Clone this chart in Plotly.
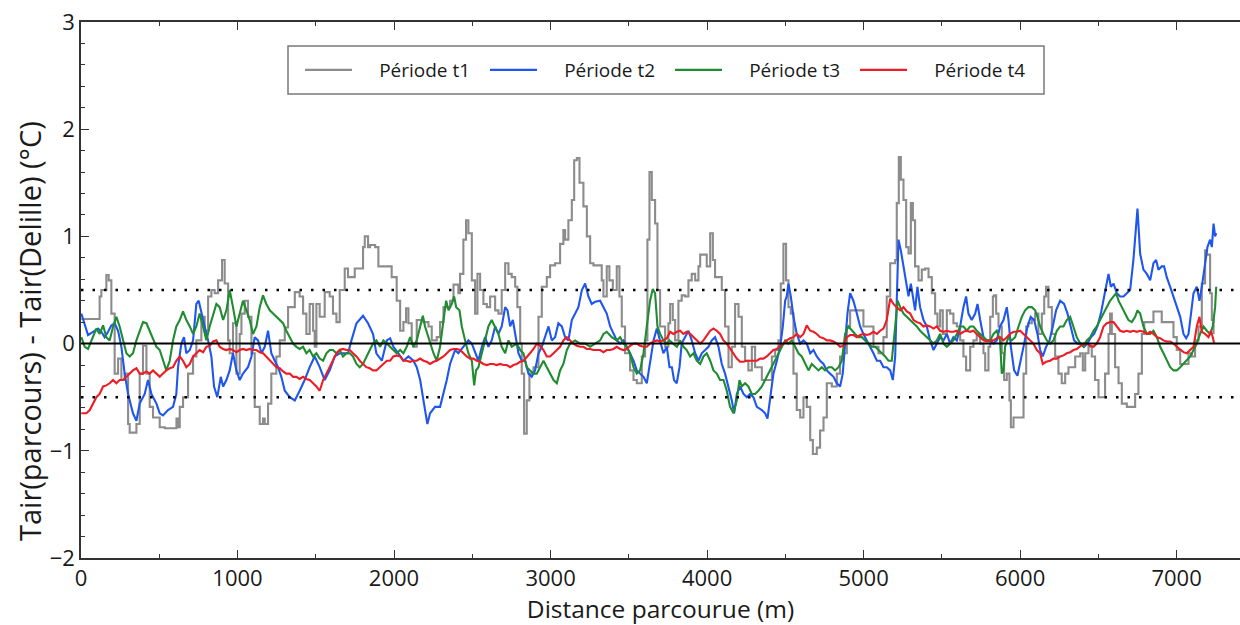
import plotly.graph_objects as go

# ---------------- data ----------------
series_names = ["Période t1", "Période t2", "Période t3", "Période t4"]
series_colors = ["#8c8c8c", "#1f56f0", "#1f8c30", "#ee1c24"]

t1_x = [2,98,119,130,162,177,194,215,237,258,279,301,311,343,354,375,396,418,439,460,503,535,599,610,620,631,652,684,716,737,769,790,812,833,854,876,901,918,940,950,971,993,1014,1025,1046,1067,1089,1110,1142,1163,1174,1195,1216,1248,1270,1302,1323,1366,1397,1419,1440,1461,1483,1493,1504,1525,1557,1589,1610,1632,1653,1685,1706,1749,1802,1813,1834,
        1847,1879,1900,1964,1985,2017,2039,2060,2077,2092,2113,2124,2145,2188,2220,2241,2273,2294,2316,2358,2380,2411,2422,2443,2460,2475,2497,2518,2533,2550,2571,2593,2614,2646,2667,2688,2710,2731,2752,2774,2788,2806,2816,2831,2848,2865,2891,2923,2944,2976,2997,3029,3061,3082,3093,3114,3136,3151,3168,3185,3210,3232,3253,3274,3306,3327,3338,3359,3376,3398,3423,3440,3455,3476,3508,3530,3551,3583,3604,3619,3632,3647,3668,3683,3700,3732,3753,
        3764,3781,3796,3817,3838,3860,3881,3902,3924,3945,3956,3977,3998,4020,4037,4051,4073,4094,4115,4137,4158,4179,4201,4222,4243,4264,4286,4307,4328,4350,4382,4414,4435,4456,4471,4488,4505,4520,4535,4552,4573,4595,4616,4637,4659,4676,4701,4722,4744,4765,4797,4829,4850,4872,4893,4914,4946,4978,4999,5031,5063,5095,5127,5148,5170,5202,5212,5225,5238,5255,5272,5287,5302,5315,5329,5351,5372,5393,5415,5436,5457,5472,5489,5506,5532,5553,5574,5596,
        5617,5638,5655,5681,5702,5723,5745,5766,5777,5798,5809,5826,5834,5847,5862,5883,5898,5915,5932,5941,5958,6011,6022,6039,6053,6075,6096,6117,6139,6154,6166,6181,6203,6224,6245,6266,6288,6309,6330,6352,6384,6401,6416,6437,6458,6479,6501,6522,6543,6565,6575,6586,6607,6629,6650,6682,6714,6735,6756,6778,6793,6820,6852,6884,6905,6937,6980,7001,7023,7055,7076,7097,7118,7140,7161,7182,7193,7214,7225,7236]
t1_y = [0.23,0.23,0.44,0.50,0.64,0.59,0.28,-0.28,-0.14,-0.34,-0.28,-0.75,-0.83,-0.83,-0.75,-0.28,-0.02,-0.28,-0.59,-0.69,-0.78,-0.79,-0.79,-0.70,-0.78,-0.59,-0.50,-0.28,-0.12,0.03,0.25,0.12,0.44,0.50,0.47,0.59,0.78,0.56,0.03,-0.09,0.19,-0.28,0.09,0.28,0.40,0.25,-0.09,-0.59,-0.75,-0.70,-0.75,-0.56,-0.28,-0.12,0.03,0.15,0.34,0.48,0.44,0.28,0.09,0.37,0.12,-0.03,0.37,0.25,0.48,0.44,0.28,0.20,0.50,0.70,0.62,0.70,0.90,1.00,0.90,
        0.92,0.90,0.72,0.72,0.62,0.40,0.12,0.20,0.33,0.19,0.0,-0.03,0.22,0.20,0.16,0.03,0.06,0.20,0.34,0.40,0.55,0.47,0.65,0.97,1.15,1.03,0.59,0.28,0.65,0.50,0.37,0.34,0.44,0.31,0.28,0.50,0.75,0.65,0.62,0.53,0.34,0.0,-0.28,-0.84,-0.53,-0.28,-0.22,0.25,0.53,0.62,0.73,0.75,0.93,1.06,0.97,1.15,1.34,1.71,1.73,1.50,1.28,1.00,0.75,0.73,0.73,0.59,0.44,0.72,0.59,0.50,0.72,0.44,0.16,-0.09,-0.25,-0.34,-0.37,-0.12,0.03,0.97,1.60,1.34,1.12,0.50,0.16,-0.03,0.19,
        0.37,0.22,0.03,0.40,0.45,0.44,0.59,0.65,0.59,0.72,0.83,0.83,0.72,1.03,0.78,0.62,0.62,0.50,0.16,-0.22,-0.03,0.37,0.25,-0.03,-0.16,-0.25,-0.03,-0.22,-0.22,-0.34,-0.34,-0.12,-0.06,0.03,0.56,0.93,0.59,0.34,0.28,-0.28,-0.62,-0.69,-0.50,-0.59,-0.90,-1.03,-0.97,-0.81,-0.69,-0.37,-0.40,-0.28,-0.12,-0.09,0.16,0.31,0.31,0.31,0.16,0.16,-0.03,-0.09,0.06,0.44,0.75,0.78,1.31,1.74,1.53,1.34,0.90,0.84,1.31,1.15,0.72,0.59,0.69,0.70,0.62,0.47,0.28,0.16,0.31,0.09,0.31,0.28,0.19,0.16,
        0.03,-0.12,-0.25,-0.03,0.03,0.09,0.0,-0.09,-0.25,-0.03,0.25,0.44,0.45,0.28,0.16,-0.09,-0.34,-0.28,-0.53,-0.78,-0.69,-0.69,-0.28,0.16,0.19,0.22,0.28,0.09,0.28,0.44,0.53,0.34,0.09,-0.12,-0.28,-0.37,-0.28,-0.22,-0.22,-0.12,-0.09,-0.25,-0.09,-0.03,-0.12,-0.34,-0.50,-0.50,-0.28,0.09,0.28,0.09,-0.22,-0.37,-0.56,-0.59,-0.59,-0.47,-0.28,0.09,0.20,0.20,0.30,0.30,0.20,0.20,0.06,-0.06,-0.19,-0.19,-0.09,-0.12,0.03,0.16,0.56,0.87,0.83,0.47,0.22,0.09]

t2_x = [2,24,45,77,109,130,151,173,194,215,237,258,279,301,332,354,375,407,428,450,482,503,524,556,588,609,620,641,658,673,695,716,737,752,769,790,812,833,850,871,893,908,929,950,971,993,1014,1035,1067,1089,1110,1131,1153,1174,1195,1216,1238,1259,1280,1302,1334,1366,1397,1429,1461,1493,1525,1557,1589,1621,1653,1685,1706,1728,1760,1802,1834,1866,1887,
        1922,1954,1975,1996,2028,2060,2092,2124,2145,2167,2188,2213,2230,2262,2294,2316,2337,2358,2390,2411,2443,2475,2497,2518,2539,2561,2582,2603,2624,2646,2667,2688,2710,2725,2742,2759,2774,2795,2816,2837,2859,2880,2901,2923,2944,2965,2987,3008,3029,3050,3072,3093,3114,3136,3157,3178,3200,3221,3242,3263,3285,3317,3338,3359,3381,3402,3423,3445,3466,3487,3508,3530,3551,3572,3594,3615,3636,3658,3679,3700,3721,3743,3760,
        3775,3789,3806,3824,3838,3860,3881,3902,3924,3945,3966,3988,4009,4030,4051,4073,4094,4115,4137,4158,4173,4190,4211,4233,4254,4275,4296,4318,4350,4371,4386,4403,4424,4446,4467,4484,4499,4509,4520,4535,4552,4573,4595,4616,4637,4659,4680,4701,4722,4744,4765,4786,4808,4829,4850,4867,4882,4897,4914,4935,4957,4978,4999,5021,5042,5063,5085,5106,5127,5148,5170,5187,5202,5212,5223,5238,5255,5276,5287,5302,5315,5329,5344,5361,5383,5404,5425,5447,5468,5489,5511,5532,5553,5574,5596,
        5617,5638,5655,5670,5691,5713,5728,5745,5766,5787,5809,5830,5851,5872,5894,5915,5926,5941,5962,5983,6004,6026,6047,6068,6090,6111,6128,6145,6166,6188,6209,6230,6256,6281,6303,6324,6345,6367,6388,6409,6430,6452,6473,6494,6516,6537,6554,6565,6580,6597,6618,6639,6661,6682,6703,6724,6741,6750,6767,6788,6810,6831,6852,6869,6884,6905,6920,6937,6959,6980,7001,7023,7044,7061,7076,7091,7108,7129,7146,7161,7182,7197,7214,7225,7236,7246,7253]
t2_y = [0.28,0.17,0.08,0.11,0.14,0.11,0.06,0.11,0.17,0.19,0.12,-0.03,-0.28,-0.47,-0.65,-0.72,-0.56,-0.47,-0.34,-0.47,-0.56,-0.65,-0.67,-0.62,-0.59,-0.47,-0.22,0.0,0.06,-0.09,-0.06,0.03,0.37,0.40,0.28,0.16,0.03,-0.12,-0.40,-0.50,-0.31,-0.40,-0.34,-0.25,-0.09,-0.25,-0.34,-0.28,-0.22,-0.12,0.06,0.03,-0.09,-0.03,0.12,-0.09,-0.16,-0.22,-0.31,-0.44,-0.50,-0.53,-0.44,-0.34,-0.22,-0.12,-0.22,-0.34,-0.25,-0.12,-0.09,-0.09,-0.09,0.03,0.19,0.26,0.19,0.09,-0.09,
        -0.16,0.03,0.05,-0.03,-0.09,-0.16,-0.12,-0.16,-0.22,-0.34,-0.53,-0.75,-0.65,-0.59,-0.59,-0.47,-0.34,-0.19,-0.06,-0.09,-0.03,0.03,0.0,-0.09,-0.16,-0.03,0.06,-0.03,0.03,0.16,0.09,0.16,0.34,0.31,0.16,0.22,0.09,-0.09,-0.16,-0.16,-0.28,-0.31,-0.25,-0.09,-0.03,0.06,0.16,0.03,0.06,0.19,0.16,0.06,0.03,0.22,0.28,0.34,0.50,0.56,0.44,0.37,0.39,0.40,0.34,0.28,0.16,0.09,0.03,0.0,0.03,-0.03,-0.09,-0.16,-0.25,-0.28,-0.31,-0.37,-0.16,0.03,0.14,0.03,-0.09,-0.03,-0.22,
        -0.22,-0.34,-0.37,-0.22,0.0,0.06,0.12,0.03,-0.09,-0.16,-0.09,-0.06,-0.03,0.03,0.06,-0.03,-0.19,-0.28,-0.40,-0.53,-0.65,-0.47,-0.40,-0.47,-0.50,-0.47,-0.50,-0.59,-0.62,-0.65,-0.70,-0.50,-0.28,-0.16,-0.03,0.16,0.40,0.44,0.56,0.44,0.25,0.09,0.0,0.03,0.0,-0.09,-0.06,-0.12,-0.16,-0.19,-0.25,-0.28,-0.31,-0.37,-0.40,-0.28,0.03,0.28,0.47,0.40,0.28,0.16,0.09,0.03,-0.03,-0.09,-0.16,-0.16,-0.22,-0.22,-0.25,-0.34,-0.12,0.50,0.97,0.87,0.72,0.53,0.44,0.56,0.44,0.31,0.53,0.34,0.22,0.16,0.03,-0.06,0.0,0.06,0.03,0.09,0.0,0.06,0.03,
        0.16,0.34,0.44,0.28,0.22,0.28,0.37,0.22,0.06,0.03,0.03,0.0,0.03,0.16,0.22,0.34,0.22,-0.03,-0.25,-0.30,-0.16,0.0,0.16,0.25,0.22,0.09,-0.06,-0.12,-0.03,0.03,0.16,0.31,0.40,0.37,0.28,0.16,0.03,0.0,0.0,-0.03,0.0,0.06,0.09,0.16,0.28,0.44,0.59,0.65,0.53,0.56,0.47,0.44,0.44,0.47,0.50,0.78,1.15,1.26,0.84,0.69,0.65,0.59,0.75,0.78,0.69,0.72,0.72,0.62,0.53,0.44,0.34,0.25,0.09,0.05,0.09,0.25,0.47,0.53,0.40,0.53,0.75,0.90,0.97,0.90,1.12,1.00,1.03]

t3_x = [2,24,45,77,98,119,141,162,183,205,226,247,269,290,311,332,354,375,396,418,439,460,482,503,524,545,567,588,609,631,652,673,695,716,737,758,780,801,822,844,865,886,908,929,950,971,993,1014,1035,1057,1078,1099,1121,1142,1163,1184,1206,1227,1248,1270,1291,1312,1334,1355,1376,1397,1419,1440,1461,1483,1504,1525,1547,1568,1589,1610,1632,1653,1674,1696,1717,1738,1760,1781,1802,1823,1845,1866,1887,
        1911,1932,1954,1975,1996,2017,2039,2060,2081,2103,2124,2145,2167,2184,2198,2213,2230,2252,2273,2294,2316,2333,2348,2369,2384,2397,2418,2433,2454,2475,2497,2512,2524,2539,2561,2582,2603,2624,2646,2667,2688,2710,2731,2752,2784,2806,2827,2848,2869,2891,2912,2933,2955,2976,2997,3019,3040,3061,3082,3104,3125,3157,3189,3221,3253,3285,3317,3338,3359,3391,3423,3445,3466,3487,3508,3530,3551,3572,3594,3615,3636,3653,3668,3683,3700,3721,3743,3760,
        3785,3807,3828,3849,3870,3892,3913,3934,3956,3977,3998,4020,4041,4062,4083,4105,4126,4147,4169,4190,4207,4222,4243,4264,4286,4307,4328,4350,4371,4392,4414,4435,4456,4477,4499,4520,4541,4563,4584,4605,4627,4648,4669,4690,4712,4733,4754,4776,4797,4818,4840,4861,4882,4903,4925,4946,4967,4989,5010,5031,5053,5074,5095,5116,5138,5159,5180,5202,5217,5234,5255,5276,5298,5319,5340,5361,5383,5404,5425,5447,5468,5489,5511,5532,5553,5574,5596,
        5617,5638,5659,5681,5702,5723,5745,5766,5787,5809,5830,5851,5872,5883,5894,5904,5926,5947,5968,5990,6011,6032,6053,6075,6096,6111,6128,6149,6171,6192,6213,6235,6256,6277,6298,6320,6341,6362,6384,6405,6426,6448,6469,6490,6511,6533,6554,6575,6597,6614,6629,6650,6671,6692,6714,6735,6750,6767,6788,6810,6831,6852,6874,6895,6916,6937,6959,6980,7001,7023,7044,7065,7087,7108,7129,7150,7172,7193,7214,7231,7246,7253]
t3_y = [0.06,-0.03,-0.05,0.06,0.14,0.09,0.17,0.06,0.03,0.16,0.25,0.16,0.03,-0.09,-0.12,-0.09,0.03,0.11,0.20,0.19,0.12,0.06,-0.03,-0.06,-0.16,-0.25,-0.16,0.03,0.16,0.22,0.30,0.22,0.16,0.09,0.16,0.28,0.16,0.03,0.16,0.28,0.37,0.34,0.22,0.31,0.50,0.34,0.16,0.28,0.40,0.31,0.22,0.09,0.16,0.34,0.45,0.37,0.31,0.28,0.25,0.22,0.19,0.12,0.06,0.0,-0.03,-0.05,-0.03,-0.09,-0.06,-0.12,-0.09,-0.14,-0.16,-0.09,-0.06,-0.06,-0.09,-0.06,-0.12,-0.09,-0.09,-0.12,-0.19,-0.22,-0.19,-0.12,-0.06,0.0,0.03,
        -0.03,0.03,0.0,-0.03,-0.06,-0.09,-0.06,-0.09,-0.03,0.06,-0.03,0.03,0.16,0.26,0.16,0.09,0.0,-0.09,-0.16,-0.03,0.22,0.40,0.31,0.37,0.44,0.34,0.31,0.16,0.03,-0.09,-0.16,-0.39,-0.25,-0.22,-0.09,0.03,0.16,0.22,0.16,0.09,-0.03,-0.09,0.03,-0.03,0.0,-0.06,-0.09,-0.22,-0.25,-0.28,-0.28,-0.22,-0.16,-0.22,-0.28,-0.34,-0.37,-0.25,-0.19,-0.06,0.0,0.03,0.0,0.0,-0.03,0.0,0.03,0.09,0.11,0.06,0.03,0.06,0.0,-0.03,-0.09,-0.22,-0.28,-0.25,-0.09,0.16,0.40,0.51,0.47,0.16,0.09,0.03,0.0,0.03,
        0.0,-0.03,0.03,-0.03,-0.06,-0.12,-0.09,-0.16,-0.19,-0.12,-0.09,-0.16,-0.25,-0.28,-0.34,-0.34,-0.44,-0.59,-0.65,-0.53,-0.34,-0.40,-0.37,-0.40,-0.47,-0.47,-0.44,-0.40,-0.34,-0.28,-0.22,-0.16,-0.09,-0.03,0.03,0.0,0.03,-0.03,-0.09,-0.12,-0.19,-0.25,-0.19,-0.22,-0.25,-0.22,-0.25,-0.22,-0.22,-0.25,-0.22,-0.16,0.09,0.16,0.12,0.09,0.06,0.06,0.03,0.0,-0.03,-0.03,-0.06,-0.09,-0.12,-0.16,-0.16,0.16,0.40,0.34,0.28,0.25,0.22,0.19,0.16,0.12,0.09,0.06,0.03,0.0,0.03,0.09,0.0,-0.03,0.0,0.03,0.09,
        0.16,0.16,0.12,0.16,0.16,0.12,0.09,0.06,0.03,0.03,0.09,0.12,0.03,-0.28,-0.25,-0.03,0.06,0.03,0.06,0.16,0.25,0.31,0.34,0.34,0.31,0.25,0.16,0.09,0.03,0.0,0.03,0.12,0.16,0.16,0.22,0.25,0.16,0.06,0.0,-0.03,0.03,0.06,0.12,0.16,0.22,0.28,0.34,0.40,0.44,0.47,0.40,0.34,0.28,0.22,0.20,0.25,0.31,0.28,0.16,0.09,0.09,0.12,0.06,-0.03,-0.09,-0.16,-0.22,-0.25,-0.25,-0.22,-0.19,-0.16,-0.12,-0.06,0.0,0.09,0.16,0.12,0.09,0.16,0.34,0.53]

t4_x = [2,34,56,77,98,119,141,162,183,205,226,247,269,290,311,332,354,375,396,418,439,460,482,503,524,545,567,588,609,631,652,673,695,716,737,758,780,801,822,844,865,886,908,929,950,971,993,1014,1035,1057,1078,1099,1121,1142,1163,1184,1206,1227,1248,1270,1291,1312,1334,1355,1376,1397,1419,1440,1461,1483,1504,1525,1547,1568,1589,1610,1632,1653,1674,1696,1717,1738,1760,1781,1802,1823,1845,1866,1887,
        1911,1932,1954,1975,1996,2017,2039,2060,2081,2103,2124,2145,2167,2188,2209,2230,2252,2273,2294,2316,2337,2358,2380,2401,2422,2443,2465,2486,2507,2529,2550,2571,2593,2614,2635,2656,2678,2699,2720,2742,2763,2784,2806,2827,2848,2869,2891,2912,2933,2955,2976,2997,3019,3040,3061,3082,3104,3125,3146,3168,3189,3210,3232,3253,3274,3295,3317,3338,3359,3381,3402,3423,3445,3466,3487,3508,3530,3551,3572,3594,3615,3636,3658,3679,3700,3721,3743,
        3764,3785,3807,3828,3849,3870,3892,3913,3934,3956,3977,3998,4020,4041,4062,4083,4105,4126,4147,4169,4190,4211,4233,4254,4275,4296,4318,4339,4360,4382,4403,4424,4446,4467,4488,4509,4531,4552,4573,4595,4616,4637,4659,4680,4701,4722,4744,4765,4786,4808,4829,4850,4872,4893,4914,4935,4957,4978,4999,5021,5042,5063,5085,5106,5127,5148,5170,5191,5212,5234,5255,5276,5298,5319,5340,5361,5383,5404,5425,5447,5468,5489,5511,5532,5553,5574,5596,
        5617,5638,5659,5681,5702,5723,5745,5766,5787,5809,5830,5851,5872,5894,5915,5936,5958,5979,6000,6022,6043,6064,6085,6107,6128,6145,6166,6192,6213,6235,6256,6277,6298,6320,6341,6362,6384,6405,6426,6448,6469,6490,6511,6533,6554,6575,6597,6618,6639,6661,6682,6703,6724,6746,6767,6788,6810,6831,6852,6874,6895,6916,6937,6959,6980,7001,7023,7044,7065,7087,7108,7129,7146,7161,7182,7204,7219,7231,7240]
t4_y = [-0.65,-0.65,-0.62,-0.56,-0.50,-0.47,-0.40,-0.39,-0.37,-0.34,-0.37,-0.34,-0.34,-0.31,-0.28,-0.25,-0.23,-0.28,-0.28,-0.26,-0.28,-0.25,-0.28,-0.31,-0.28,-0.25,-0.23,-0.22,-0.16,-0.12,-0.16,-0.22,-0.19,-0.12,-0.09,-0.06,-0.08,-0.03,-0.02,0.02,0.03,-0.03,-0.05,-0.06,-0.05,-0.06,-0.08,-0.06,-0.05,-0.06,-0.05,-0.06,-0.06,-0.08,-0.09,-0.12,-0.16,-0.19,-0.22,-0.23,-0.26,-0.28,-0.28,-0.31,-0.31,-0.33,-0.31,-0.33,-0.34,-0.37,-0.40,-0.44,-0.34,-0.28,-0.22,-0.16,-0.09,-0.06,-0.05,-0.06,-0.06,-0.09,-0.12,-0.16,-0.19,-0.22,-0.23,-0.25,-0.25,
        -0.22,-0.19,-0.16,-0.16,-0.12,-0.11,-0.12,-0.16,-0.16,-0.17,-0.16,-0.16,-0.14,-0.16,-0.17,-0.19,-0.17,-0.16,-0.14,-0.12,-0.09,-0.06,-0.05,-0.05,-0.06,-0.09,-0.12,-0.14,-0.14,-0.16,-0.17,-0.19,-0.20,-0.19,-0.19,-0.20,-0.19,-0.20,-0.20,-0.22,-0.20,-0.19,-0.17,-0.16,-0.12,-0.09,-0.05,0.0,-0.02,-0.06,-0.12,-0.12,-0.09,-0.06,-0.03,0.03,0.06,0.03,0.0,-0.02,-0.03,-0.03,-0.05,-0.05,-0.06,-0.06,-0.06,-0.08,-0.06,-0.06,-0.05,-0.03,-0.05,-0.06,-0.05,-0.02,0.0,0.0,-0.02,-0.03,-0.03,0.0,0.02,0.03,0.02,0.03,0.05,
        0.11,0.09,0.11,0.12,0.09,0.11,0.09,0.06,0.03,0.0,0.03,0.08,0.12,0.14,0.12,0.09,0.03,0.0,-0.05,-0.09,-0.14,-0.17,-0.17,-0.16,-0.16,-0.16,-0.16,-0.14,-0.14,-0.12,-0.09,-0.06,-0.05,-0.02,0.0,0.03,0.05,0.06,0.09,0.06,0.09,0.17,0.12,0.11,0.09,0.06,0.05,0.03,0.03,0.02,0.0,-0.03,-0.02,0.06,0.08,0.08,0.06,0.08,0.09,0.08,0.09,0.11,0.09,0.12,0.14,0.22,0.42,0.37,0.34,0.31,0.34,0.30,0.28,0.22,0.20,0.19,0.16,0.17,0.16,0.14,0.16,0.12,0.11,0.12,0.11,0.11,0.12,
        0.09,0.11,0.12,0.11,0.12,0.09,0.06,0.03,0.02,0.03,0.03,0.05,0.06,0.03,0.06,0.09,0.11,0.11,0.12,0.09,0.06,0.03,0.0,-0.06,-0.09,-0.19,-0.17,-0.16,-0.14,-0.14,-0.12,-0.11,-0.09,-0.08,-0.06,-0.05,-0.02,0.0,0.0,-0.02,-0.03,0.0,0.06,0.16,0.19,0.20,0.20,0.16,0.12,0.11,0.12,0.11,0.12,0.11,0.12,0.11,0.09,0.11,0.09,0.06,0.05,0.03,0.02,0.02,0.0,-0.03,-0.06,-0.08,-0.09,-0.06,-0.03,0.16,0.25,0.11,0.09,0.06,0.12,0.06,0.0]

x_tick_vals = [0, 1000, 2000, 3000, 4000, 5000, 6000, 7000]
y_tick_vals = [-2, -1, 0, 1, 2, 3]
threshold_levels = [-0.5, 0.5]
x_title = "Distance parcourue (m)"
y_title = "Tair(parcours) - Tair(Delille) (°C)"

# ---------------- figure ----------------
FONT = "Open Sans"
PL, PT, PB = 81, 22, 558          # plot area in pixels
PW, PH = 1240 - PL, PB - PT

def px_x(p):
    return (p - PL) / PW

def px_y(p):
    return (PB - p) / PH

fig = go.Figure()

series = [(t1_x, t1_y), (t2_x, t2_y), (t3_x, t3_y), (t4_x, t4_y)]
LEG_PAD = "\u2002\u2002\u2009"
for i, (xs, ys) in enumerate(series):
    fig.add_trace(go.Scatter(
        x=xs, y=ys, mode="lines", name=LEG_PAD + series_names[i],
        line=dict(color=series_colors[i], width=2.1,
                  shape="hv" if i == 0 else "linear"),
    ))

# reference lines
fig.add_hline(y=0, line=dict(color="black", width=2))
for lv in threshold_levels:
    fig.add_hline(y=lv, line=dict(color="black", width=2.5, dash="2.5px,9px"))

# legend frame
fig.add_shape(type="rect", xref="paper", yref="paper",
              x0=px_x(288), x1=px_x(1044), y0=px_y(94), y1=px_y(46),
              line=dict(color="#7a7a7a", width=1.5), fillcolor="white", layer="below")

# y axis title (placed like the original, slightly below the plot centre)
fig.add_annotation(text=y_title, xref="paper", yref="paper",
                   x=px_x(29), y=px_y(331), xanchor="center", yanchor="middle",
                   textangle=-90, showarrow=False,
                   font=dict(family=FONT, size=29, color="#1a1a1a"))

fig.update_layout(
    width=1240, height=625,
    margin=dict(l=PL, r=0, t=PT, b=625 - PB),
    paper_bgcolor="white", plot_bgcolor="white",
    font=dict(family=FONT, color="#1a1a1a", size=20),
    showlegend=True,
    legend=dict(
        orientation="h", x=px_x(300), y=px_y(70),
        xanchor="left", yanchor="middle", valign="middle",
        font=dict(family=FONT, size=19, color="#1a1a1a"),
        bgcolor="rgba(0,0,0,0)", borderwidth=0,
        entrywidth=123, entrywidthmode="pixels", itemwidth=47,
    ),
    xaxis=dict(
        range=[0, 7405], tickvals=x_tick_vals, ticks="inside", ticklen=8,
        tickwidth=1.2, tickcolor="#333", showline=True, linecolor="#333",
        linewidth=1.5, mirror="ticks", showgrid=False, zeroline=False,
        minor=dict(dtick=500, ticks="inside", ticklen=4, tickcolor="#333", showgrid=False),
        tickfont=dict(size=22),
        title=dict(text=x_title, font=dict(size=24.5), standoff=3),
    ),
    yaxis=dict(
        range=[-2, 3], tickvals=y_tick_vals, ticks="inside", ticklen=8,
        tickwidth=1.2, tickcolor="#333", showline=True, linecolor="#333",
        linewidth=1.5, showgrid=False, zeroline=False,
        minor=dict(dtick=0.2, ticks="inside", ticklen=4, tickcolor="#333", showgrid=False),
        tickfont=dict(size=22),
    ),
)

fig.write_html("out.html")
